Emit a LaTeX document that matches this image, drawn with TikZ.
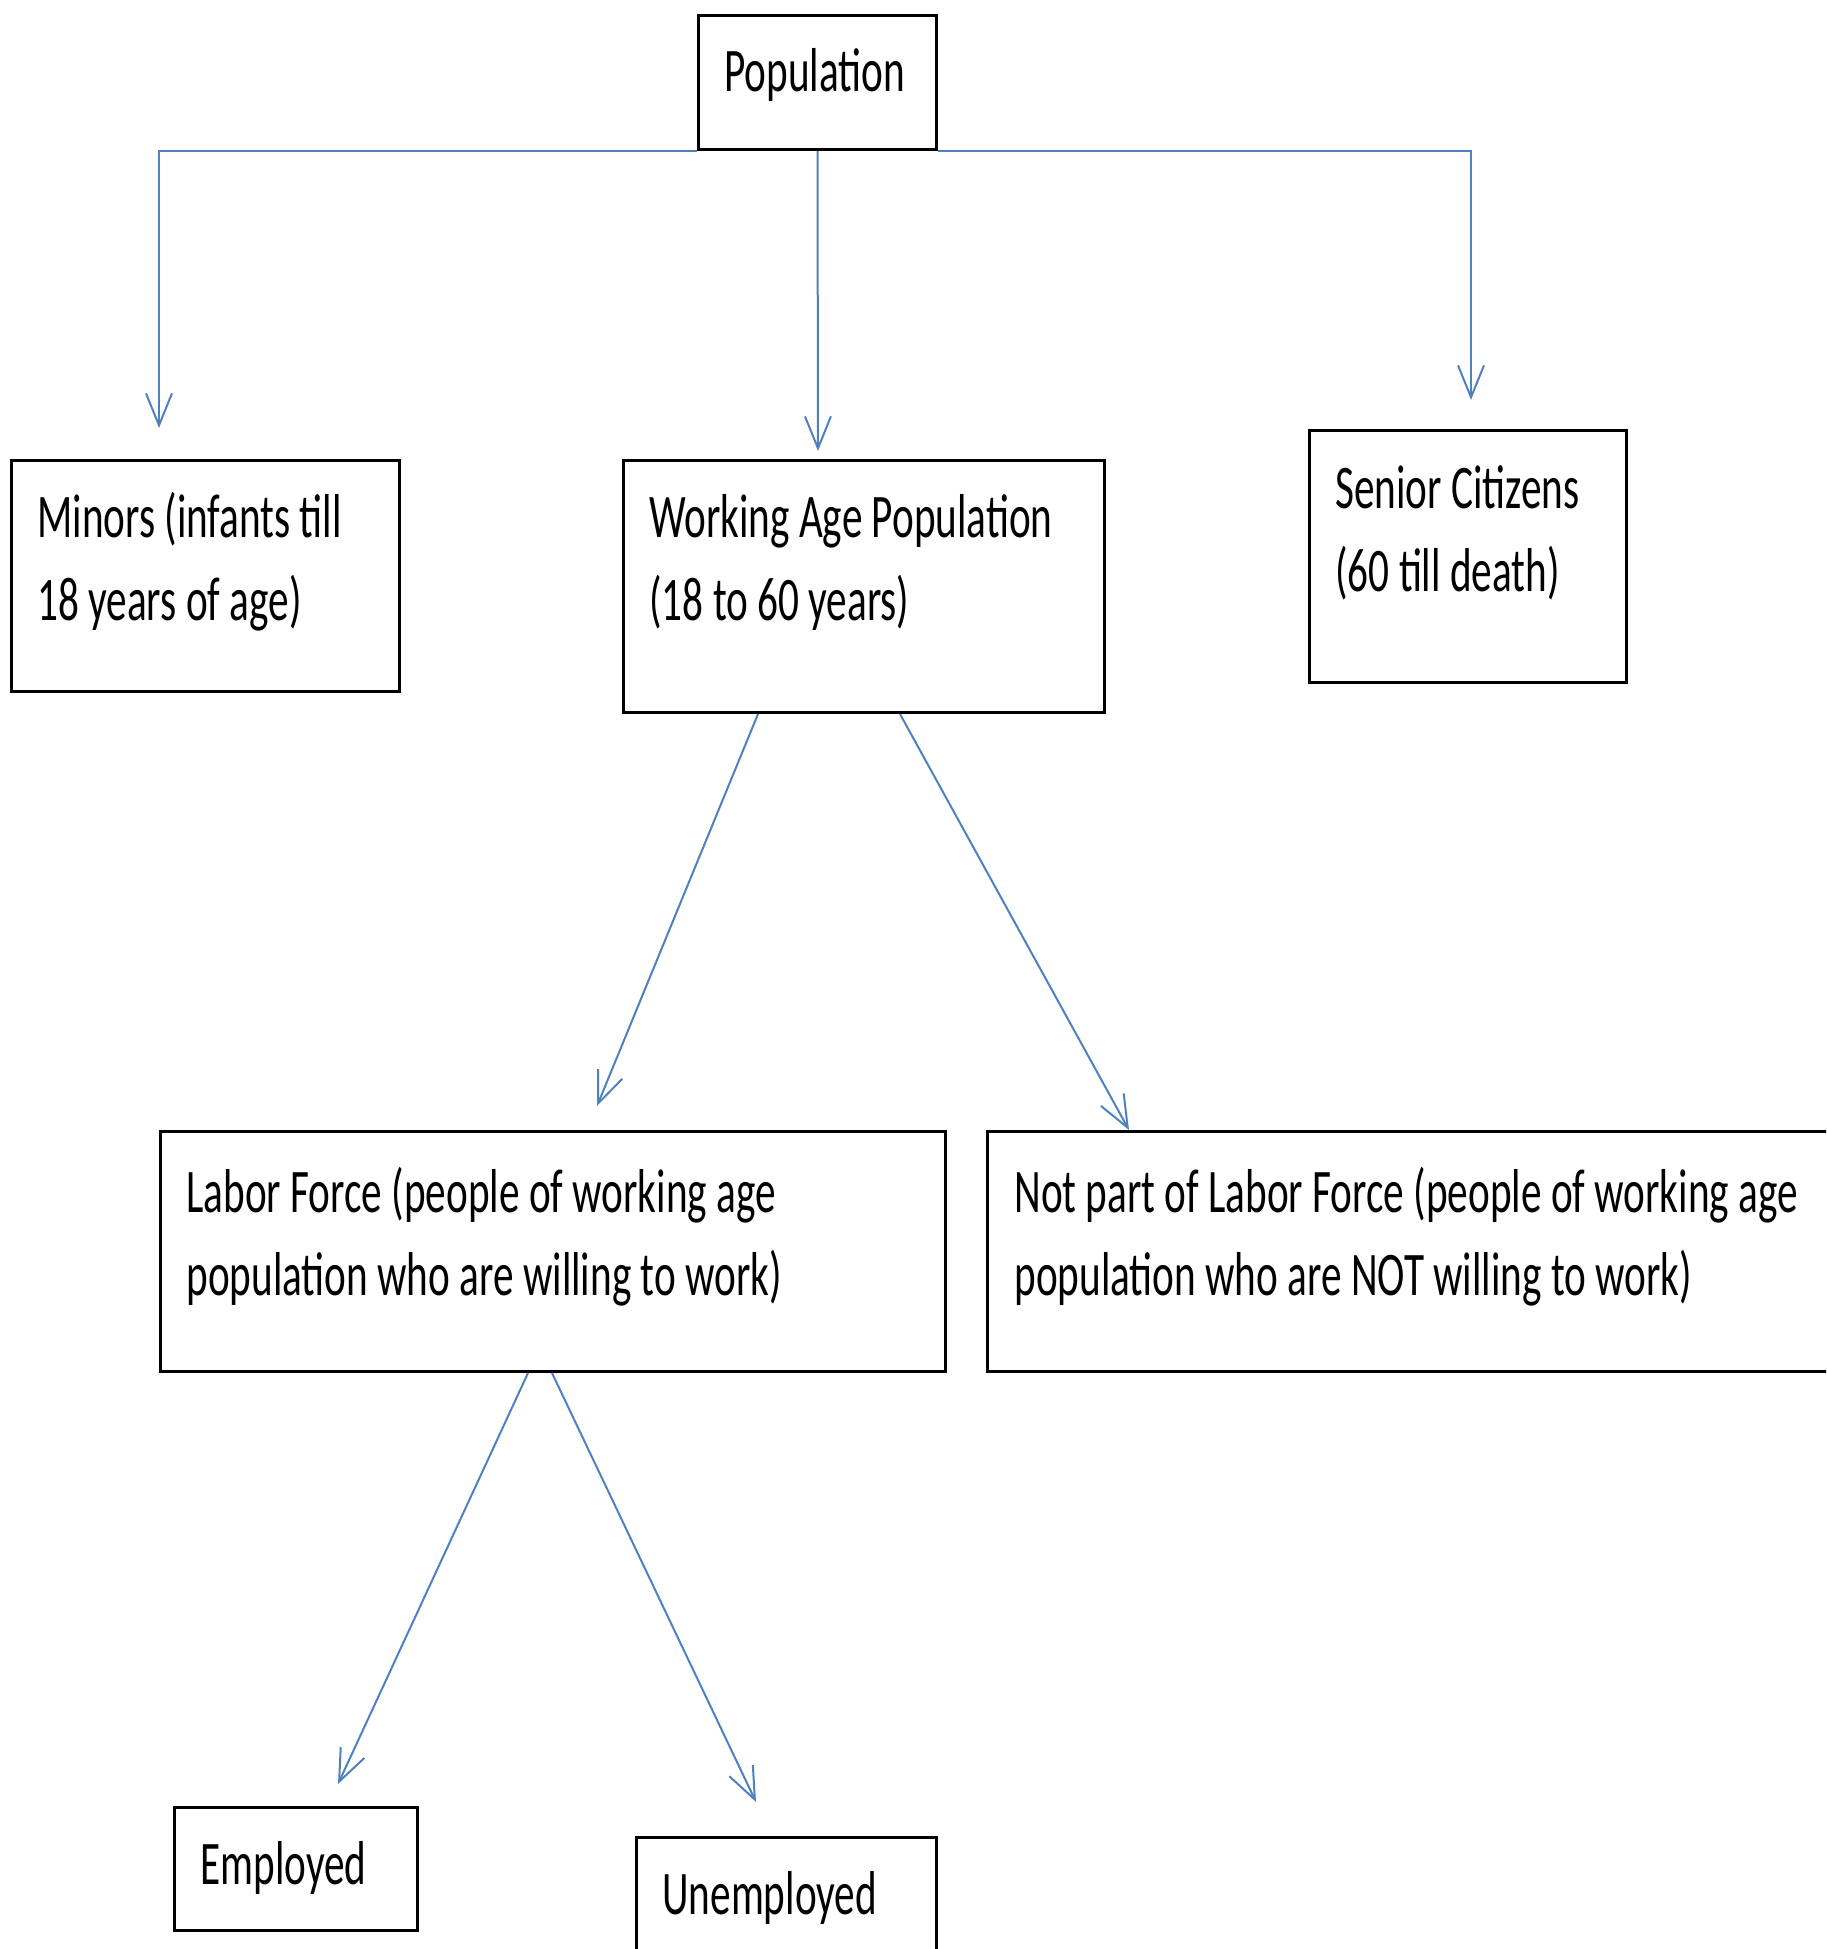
\documentclass[tikz,border=0pt]{standalone}
\usepackage{fontspec}
\setmainfont{Carlito}[FakeStretch=0.665]
\usetikzlibrary{arrows.meta}
\definecolor{connblue}{RGB}{79,129,189}
\begin{document}
\begin{tikzpicture}[x=0.5pt,y=-0.5pt,
  box/.style={draw=black,line width=1.5pt,rectangle,anchor=north west,inner sep=0pt},
  lbl/.style={anchor=base west,inner sep=0pt,font=\fontsize{31pt}{41.5pt}\selectfont},
  conn/.style={draw=connblue,line width=1pt,-{Straight Barb[length=16pt,width=13pt,line width=1pt]}}]
\useasboundingbox (0,0) rectangle (1826,1949);
\clip (0,0) rectangle (1826,1949);
% boxes
\node[box,minimum width=119pt,minimum height=67pt] (pop) at (697,14) {};
\node[box,minimum width=194pt,minimum height=115.5pt] (min) at (10,459) {};
\node[box,minimum width=240.5pt,minimum height=126pt] (wrk) at (622,459) {};
\node[box,minimum width=158.5pt,minimum height=126pt] (sen) at (1308,429) {};
\node[box,minimum width=392.5pt,minimum height=120pt] (lab) at (159,1130) {};
\node[box,minimum width=440pt,minimum height=120pt] (nlf) at (986,1130) {};
\node[box,minimum width=121.5pt,minimum height=61.5pt] (emp) at (173,1806) {};
\node[box,minimum width=150pt,minimum height=75pt] (une) at (635,1836) {};
% labels
\node[lbl] (popT) at ([shift={(13.5pt,-38.5pt)}]pop.north west) {Population};
\node[lbl] (minT) at ([shift={(13.5pt,-39pt)}]min.north west) {\parbox[t]{300pt}{Minors (infants till\\18 years of age)}};
\node[lbl] (wrkT) at ([shift={(13.5pt,-39pt)}]wrk.north west) {\parbox[t]{300pt}{Working Age Population\\(18 to 60 years)}};
\node[lbl] (senT) at ([shift={(13.5pt,-39.5pt)}]sen.north west) {\parbox[t]{300pt}{Senior Citizens\\(60 till death)}};
\node[lbl] (labT) at ([shift={(13.5pt,-41pt)}]lab.north west) {\parbox[t]{500pt}{Labor Force (people of working age\\population who are willing to work)}};
\node[lbl] (nlfT) at ([shift={(14pt,-41pt)}]nlf.north west) {\parbox[t]{500pt}{Not part of Labor Force (people of working age\\population who are NOT willing to work)}};
\node[lbl] (empT) at ([shift={(13.5pt,-39pt)}]emp.north west) {Employed};
\node[lbl] (uneT) at ([shift={(13.5pt,-39pt)}]une.north west) {Unemployed};
% connector end points
\coordinate (minTip) at (159,428);
\coordinate (senTip) at (1471,400);
\coordinate (wrkTip) at (818,451);
\coordinate (labTip) at (597,1106);
\coordinate (empTip) at (338,1784);
\coordinate (uneTip) at (756,1802);
% connectors
\draw[conn] (pop.south west) -| (minTip);
\draw[conn] (pop.south east) -| (senTip);
\draw[conn] (pop.south) -- (wrkTip);
\draw[conn] ([xshift=68pt]wrk.south west) -- (labTip);
\draw[conn] ([xshift=139pt]wrk.south west) -- ([xshift=71.5pt]nlf.north west);
\draw[conn] ([xshift=184.5pt]lab.south west) -- (empTip);
\draw[conn] ([xshift=196.5pt]lab.south west) -- (uneTip);
\end{tikzpicture}
\end{document}
